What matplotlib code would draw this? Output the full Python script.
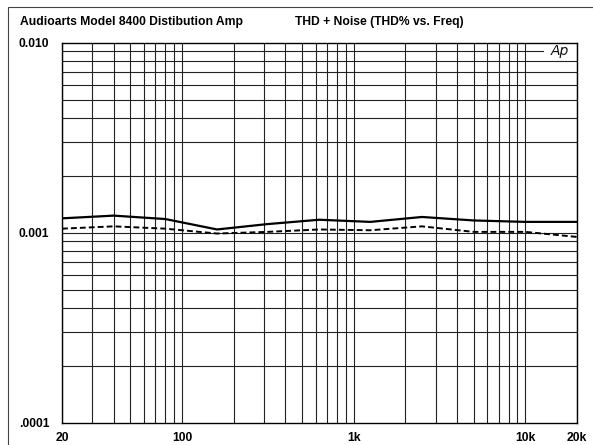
import matplotlib
matplotlib.use("Agg")
import matplotlib.pyplot as plt
from matplotlib.patches import Rectangle

# sweep points (octave steps)
freqs = [20, 40, 80, 160, 315, 630, 1250, 2500, 5000, 10000, 20000]
thd_solid = [0.00119, 0.00123, 0.00118, 0.00104, 0.00111, 0.00117,
             0.00114, 0.00121, 0.00116, 0.00114, 0.00114]
thd_dashed = [0.00105, 0.00108, 0.00105, 0.00099, 0.00101, 0.00104,
              0.00103, 0.00108, 0.00101, 0.00101, 0.00095]

x_ticks = [20, 100, 1000, 10000, 20000]
x_labels = ["20", "100", "1k", "10k", "20k"]
y_ticks = [0.0001, 0.001, 0.01]
y_labels = [".0001", "0.001", "0.010"]

title_left = "Audioarts Model 8400 Distibution Amp"
title_right = "THD + Noise (THD% vs. Freq)"

plt.rcParams['font.family'] = ['Liberation Sans', 'DejaVu Sans']

fig = plt.figure(figsize=(5.93, 4.45), dpi=100)
ax = fig.add_axes([62 / 593, 1 - 422.7 / 445, 515 / 593, 380 / 445])

# frame around the whole figure
fig.patches.append(Rectangle((7.5 / 593, -0.1), 1.2, 1 - 6.7 / 445 + 0.1,
                             transform=fig.transFigure, fill=False,
                             edgecolor='#444444', linewidth=0.8))

ax.set_xscale('log')
ax.set_yscale('log')
ax.set_xlim(20, 20000)
ax.set_ylim(0.0001, 0.01)

# vertical grid
ax.grid(axis='x', which='both', color='#222222', linewidth=0.8)

# horizontal grid, the 0.009 line stops short of the Ap logo
for dec in [0.0001, 0.001]:
    for m in range(1, 10):
        v = dec * m
        if v <= 0.0001:
            continue
        if abs(v - 0.009) < 1e-9:
            ax.axhline(v, xmax=0.934, color='#222222', linewidth=0.8)
        else:
            ax.axhline(v, color='#222222', linewidth=0.8)

ax.plot(freqs, thd_solid, color='black', linewidth=1.6, zorder=4)
ax.plot(freqs, thd_dashed, color='black', linewidth=1.4, dashes=(3, 1.6), zorder=4)

ax.text(0.949, 0.0090, "Ap", transform=ax.get_yaxis_transform(),
        fontsize=10, style='italic', fontweight='light', family='DejaVu Sans',
        ha='left', va='center', color='#111111')

ax.xaxis.set_minor_locator(matplotlib.ticker.LogLocator(base=10, subs=range(1, 10)))
ax.xaxis.set_minor_formatter(matplotlib.ticker.NullFormatter())
ax.yaxis.set_minor_formatter(matplotlib.ticker.NullFormatter())
ax.set_xticks(x_ticks)
ax.set_xticklabels(x_labels, fontsize=8.7, fontweight='bold')
ax.set_yticks(y_ticks)
ax.set_yticklabels(y_labels, fontsize=8.7, fontweight='bold')
ax.tick_params(which='both', length=0)
ax.tick_params(axis='x', pad=7)
ax.tick_params(axis='y', pad=31)
for lab in ax.get_yticklabels():
    lab.set_horizontalalignment('left')

for s in ax.spines.values():
    s.set_linewidth(1.0)
    s.set_color('black')

fig.text(20 / 593, 1 - 21.5 / 445, title_left, fontsize=8.7,
         fontweight='bold', ha='left', va='center')
fig.text(295 / 593, 1 - 21.5 / 445, title_right, fontsize=8.7,
         fontweight='bold', ha='left', va='center')

fig.savefig("out.png", dpi=100)
